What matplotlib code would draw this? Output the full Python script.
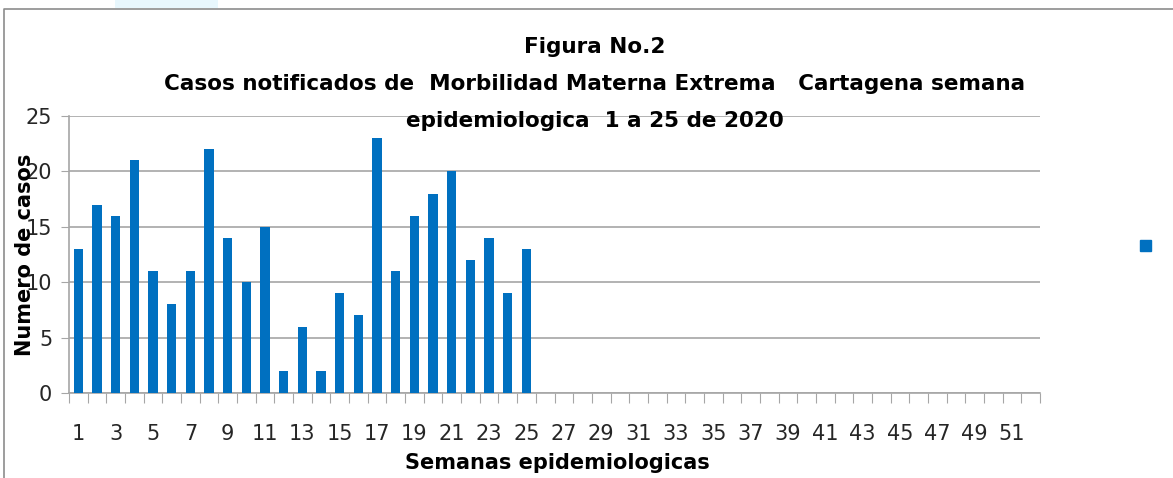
import matplotlib
matplotlib.use("Agg")
import matplotlib.pyplot as plt
from matplotlib import font_manager
from matplotlib.lines import Line2D
from matplotlib.patches import Rectangle, Patch

# Datos: casos de Morbilidad Materna Extrema por semana epidemiologica
semanas = list(range(1, 53))
casos = [13, 17, 16, 21, 11, 8, 11, 22, 14, 10, 15, 2, 6, 2, 9, 7, 23,
         11, 16, 18, 20, 12, 14, 9, 13]
yticks = [0, 5, 10, 15, 20, 25]
xtick_labels = [str(s) for s in semanas if s % 2 == 1]

available = {f.name for f in font_manager.fontManager.ttflist}
narrow = "Liberation Sans Narrow" if "Liberation Sans Narrow" in available else "DejaVu Sans"

plt.rcParams["font.family"] = [narrow, "DejaVu Sans"]

fig = plt.figure(figsize=(11.73, 4.78), dpi=100)
ax = fig.add_axes([69 / 1173, 1 - 393 / 478, (1040 - 69) / 1173, (393 - 116) / 478])

# marco del grafico (solo borde superior e izquierdo visibles)
fig.add_artist(Line2D([4 / 1173, 4 / 1173, 1], [0, 1 - 9 / 478, 1 - 9 / 478],
                      transform=fig.transFigure, color="#8c8c8c", lw=1.2))
fig.add_artist(Rectangle((115 / 1173, 1 - 8 / 478), 103 / 1173, 8 / 478,
                         transform=fig.transFigure, color="#e8f7fd", lw=0))

ax.bar(semanas[:len(casos)], casos, width=0.5, color="#0070C0", zorder=3)
ax.set_xlim(0.5, 52.5)
ax.set_ylim(0, 25)

ax.set_yticks(yticks)
ax.set_yticklabels([str(v) for v in yticks], fontsize=15, color="#262626")
ax.yaxis.grid(True, color="#a6a6a6", lw=1.2, zorder=0)
ax.tick_params(axis="y", length=6, color="#a6a6a6", pad=6)

# ticks de categoria en los bordes, etiquetas en semanas impares
ax.set_xticks([s + 0.5 for s in [0] + semanas], minor=False)
ax.set_xticklabels([])
ax.set_xticks([s for s in semanas if s % 2 == 1], minor=True)
ax.set_xticklabels(xtick_labels, minor=True, fontsize=15, color="#262626")
ax.tick_params(axis="x", which="major", length=7, color="#a6a6a6")
ax.tick_params(axis="x", which="minor", length=0, pad=22)

for side in ["top", "right"]:
    ax.spines[side].set_visible(False)
for side in ["left", "bottom"]:
    ax.spines[side].set_color("#a6a6a6")
    ax.spines[side].set_linewidth(1.2)

fig.text(25 / 1173, 1 - 255 / 478, "Numero de casos", rotation=90, ha="center", va="center",
         fontsize=15, fontweight="bold")
fig.text(557 / 1173, 1 - 463 / 478, "Semanas epidemiologicas", ha="center", va="center",
         fontsize=15, fontweight="bold")

titulo = ["Figura No.2",
          "Casos notificados de  Morbilidad Materna Extrema   Cartagena semana",
          "epidemiologica  1 a 25 de 2020"]
for i, linea in enumerate(titulo):
    fig.text(595 / 1173, 1 - (47 + 37 * i) / 478, linea, ha="center", va="center",
             fontsize=15.5, fontweight="bold")

ax.legend(handles=[Patch(color="#0070C0")], labels=[" "], loc="center left",
          bbox_to_anchor=(1.09, 0.53), frameon=False, handlelength=0.8, handleheight=0.8)

fig.savefig("out.png", dpi=100)
